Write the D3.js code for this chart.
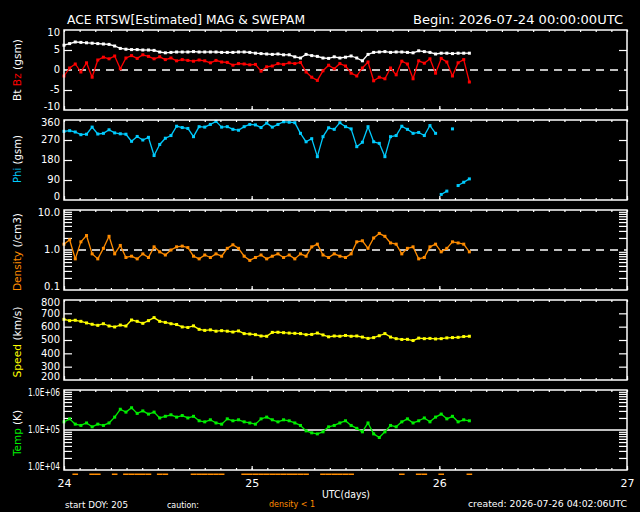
<!DOCTYPE html>
<html>
<head>
<meta charset="utf-8">
<script src="https://cdn.jsdelivr.net/npm/d3@7"></script>
<style>
  html,body{margin:0;padding:0;background:#000;}
  svg{display:block;}
  text{font-family:"DejaVu Sans",sans-serif;fill:#fff;}
</style>
</head>
<body>
<svg id="chart" width="640" height="512"></svg>
<script>
// ---------- DATA ----------
const startDay = 24.0;           // UTC day-of-month of first sample
const stepDay = 0.03;            // sample spacing in days
const dayTicks = [24, 25, 26, 27];

const bt = [6.2,6.6,7.0,6.9,6.8,6.7,6.6,6.5,6.4,6.0,5.4,5.2,5.1,5.1,5.0,5.0,4.9,4.5,4.3,4.4,
            4.5,4.5,4.5,4.6,4.5,4.5,4.5,4.5,4.4,4.4,4.4,4.5,4.5,4.4,4.2,4.1,4.0,3.9,4.0,3.8,
            3.8,3.3,3.0,3.9,3.6,3.4,3.0,2.9,3.3,3.0,3.2,3.5,3.0,2.3,3.9,4.4,4.5,4.6,4.4,4.5,
            4.5,4.4,4.3,4.8,4.6,4.4,4.0,4.2,4.2,4.1,4.2,4.2,4.2];
const bz = [-1.5,0.5,1.5,-0.5,1.8,-1.8,2.5,3.2,2.8,3.5,0.3,3.0,3.6,2.9,3.8,3.4,2.8,3.3,2.6,3.0,
            2.3,2.6,2.4,2.2,2.5,2.3,1.8,2.4,2.0,1.9,1.2,1.6,1.5,1.3,1.4,-0.3,0.8,1.0,1.6,1.4,
            1.8,1.6,1.9,-0.5,-1.8,-2.6,-0.2,1.2,0.3,1.6,1.0,-0.8,-1.5,0.5,2.0,-2.7,-1.8,-2.2,0.5,-1.2,
            2.2,1.5,-2.2,2.3,1.7,2.8,-0.8,2.9,2.0,-1.5,1.8,2.6,-3.0];
const phi = [309,312,306,294,296,328,297,300,316,302,298,296,264,286,270,282,200,250,278,290,
             332,326,322,285,330,328,340,354,328,330,318,314,330,340,338,326,346,328,340,352,
             350,348,300,262,276,195,285,325,318,348,330,320,240,260,330,262,255,195,285,290,
             332,318,300,304,290,335,300,25,40,320,65,80,95];
const density = [1.4,1.8,0.6,1.6,2.3,0.8,0.6,1.1,2.2,0.8,1.3,0.65,0.7,0.6,0.8,0.65,1.2,0.9,0.75,1.0,
                 1.2,1.25,1.15,0.7,0.6,0.75,0.65,0.8,0.7,1.1,1.35,1.1,0.7,0.55,0.65,0.75,0.6,0.7,0.8,0.65,
                 0.75,0.6,0.8,0.7,1.2,1.4,0.75,0.65,0.8,0.7,0.65,0.8,1.6,1.7,1.1,2.0,2.6,2.2,1.5,1.4,
                 0.8,1.1,1.2,0.6,0.65,1.2,1.4,0.9,1.1,1.6,1.5,1.4,0.9];
const speed = [655,645,648,640,628,618,610,622,605,598,612,605,650,640,625,645,668,640,632,622,
               616,598,594,606,580,572,576,566,570,566,560,568,548,545,540,530,528,557,558,555,
               552,550,548,540,542,552,538,524,530,528,534,528,530,522,512,518,532,548,522,510,
               504,505,496,514,510,512,508,510,516,518,520,526,528];
const temp = [1.6e5,1.9e5,1.4e5,1.3e5,1.5e5,1.2e5,1.4e5,1.3e5,1.5e5,2.1e5,3.3e5,2.8e5,3.6e5,2.6e5,3.0e5,2.5e5,2.8e5,2.0e5,2.2e5,2.4e5,
              2.1e5,2.3e5,2.0e5,2.2e5,1.7e5,1.6e5,1.8e5,1.5e5,1.4e5,1.9e5,1.7e5,1.8e5,1.6e5,1.5e5,1.4e5,1.9e5,2.1e5,1.8e5,1.6e5,1.8e5,
              1.7e5,1.5e5,1.3e5,0.95e5,0.85e5,0.8e5,0.9e5,1.2e5,1.3e5,1.5e5,1.7e5,1.3e5,1.1e5,0.9e5,1.5e5,0.8e5,0.65e5,0.9e5,1.3e5,1.2e5,
              1.6e5,1.9e5,1.5e5,1.7e5,2.0e5,1.6e5,2.1e5,2.5e5,1.9e5,2.2e5,1.6e5,1.8e5,1.7e5];

const magLabels = [-10, -5, 0, 5, 10];
const phiLabels = [0, 90, 180, 270, 360];
const denLabels = [0.1, 1, 10];
const spdLabels = [200, 300, 400, 500, 600, 700, 800];
const tmpLabels = [1e4, 1e5, 1e6];

// ---------- LAYOUT ----------
const svg = d3.select("#chart");
svg.append("rect").attr("width", 640).attr("height", 512).attr("fill", "#000");
const X0 = 64, X1 = 627;
const x = d3.scaleLinear().domain([24, 27]).range([X0, X1]);
const times = bt.map((_, i) => startDay + i * stepDay);

const COL = {bt:"#ffffff", bz:"#ff0000", phi:"#00ccff", den:"#ff8c00", spd:"#ffff00", tmp:"#00ee00"};

const panels = [
  {top:30,  bottom:110, y:d3.scaleLinear().domain([-10,10]).range([110,30]),
   labels:magLabels, fmt:d=>String(d), marks:[-5,5]},
  {top:120, bottom:200, y:d3.scaleLinear().domain([0,360]).range([200,120]),
   labels:phiLabels, fmt:d=>String(d), marks:[90,180,270]},
  {top:210, bottom:290, y:d3.scaleLog().domain([0.1,10]).range([290,210]),
   labels:denLabels, fmt:d=>d3.format(".1f")(d),
   marks:[0.2,0.3,0.4,0.5,0.6,0.7,0.8,0.9,2,3,4,5,6,7,8,9]},
  {top:300, bottom:380, y:d3.scaleLinear().domain([200,800]).range([380,300]),
   labels:spdLabels, fmt:d=>String(d), marks:[300,400,500,600,700]},
  {top:390, bottom:470, y:d3.scaleLog().domain([1e4,1e6]).range([470,390]),
   labels:tmpLabels, fmt:d=>"1.0E+0"+Math.round(Math.log10(d)), labelLen:32,
   marks:[2e4,3e4,4e4,5e4,6e4,7e4,8e4,9e4,2e5,3e5,4e5,5e5,6e5,7e5,8e5,9e5]}
];

const minorX = d3.range(0, 37).map(k => 24 + k / 12);

panels.forEach((p, pi) => {
  const g = svg.append("g");
  // x ticks top & bottom
  g.append("g").attr("transform", `translate(0,${p.bottom})`)
    .call(d3.axisBottom(x).tickValues(minorX).tickSize(-2).tickSizeOuter(0).tickFormat(""));
  g.append("g").attr("transform", `translate(0,${p.top})`)
    .call(d3.axisTop(x).tickValues(minorX).tickSize(-2).tickSizeOuter(0).tickFormat(""));
  g.append("g").attr("transform", `translate(0,${p.bottom})`)
    .call(d3.axisBottom(x).tickValues(dayTicks).tickSize(-4).tickSizeOuter(0).tickFormat(""));
  // y marks left & right
  g.append("g").attr("transform", `translate(${X0},0)`)
    .call(d3.axisLeft(p.y).tickValues(p.marks).tickSize(-8).tickSizeOuter(0).tickFormat(""));
  g.append("g").attr("transform", `translate(${X1},0)`)
    .call(d3.axisRight(p.y).tickValues(p.marks).tickSize(-8).tickSizeOuter(0).tickFormat(""));
  // y labels
  const la = g.append("g").attr("class", "lab").attr("transform", `translate(${X0},0)`)
    .call(d3.axisLeft(p.y).tickValues(p.labels).tickSize(0).tickPadding(4).tickSizeOuter(0).tickFormat(p.fmt));
  la.selectAll(".tick").attr("transform", d => {
    let yy = p.y(d);
    yy = Math.max(p.top + 3, Math.min(p.bottom - 3, yy));
    return `translate(0,${yy})`;
  });
  la.selectAll("text").attr("font-size", 10).attr("fill", "#fff");
  if (p.labelLen) la.selectAll("text").attr("textLength", p.labelLen).attr("lengthAdjust", "spacingAndGlyphs");
  g.selectAll(".domain").remove();
  g.selectAll("line").attr("stroke", "#fff").attr("stroke-width", 1.2);
});

// reference lines
svg.append("line").attr("x1", X0).attr("x2", X1)
  .attr("y1", panels[0].y(0)).attr("y2", panels[0].y(0))
  .attr("stroke", "#fff").attr("stroke-width", 1.3).attr("stroke-dasharray", "8,6");
svg.append("line").attr("x1", X0).attr("x2", X1)
  .attr("y1", panels[2].y(1)).attr("y2", panels[2].y(1))
  .attr("stroke", "#fff").attr("stroke-width", 1.3).attr("stroke-dasharray", "8,6");
svg.append("line").attr("x1", X0).attr("x2", X1)
  .attr("y1", panels[4].y(1e5)).attr("y2", panels[4].y(1e5))
  .attr("stroke", "#fff").attr("stroke-width", 1.3);

// data drawing
function drawSeries(p, values, color, maxJump) {
  const g = svg.append("g");
  for (let i = 1; i < values.length; i++) {
    if (maxJump && Math.abs(values[i] - values[i-1]) > maxJump) continue;
    g.append("line")
      .attr("x1", x(times[i-1])).attr("y1", p.y(values[i-1]))
      .attr("x2", x(times[i])).attr("y2", p.y(values[i]))
      .attr("stroke", color).attr("stroke-width", 1.3);
  }
  g.selectAll("rect").data(values).join("rect")
    .attr("x", (d, i) => x(times[i]) - 1.5).attr("y", d => p.y(d) - 1.5)
    .attr("width", 3).attr("height", 3).attr("fill", color);
}
drawSeries(panels[0], bt, COL.bt);
drawSeries(panels[0], bz, COL.bz);
drawSeries(panels[1], phi, COL.phi, 120);
drawSeries(panels[2], density, COL.den);
drawSeries(panels[3], speed, COL.spd);
drawSeries(panels[4], temp, COL.tmp);

// frames
panels.forEach(p => {
  svg.append("rect").attr("x", X0).attr("y", p.top)
    .attr("width", X1 - X0).attr("height", p.bottom - p.top)
    .attr("fill", "none").attr("stroke", "#fff").attr("stroke-width", 1.5);
});

// density < 1 indicator
svg.append("g").selectAll("rect").data(density.map((d, i) => ({d, t: times[i]})).filter(o => o.d < 1))
  .join("rect")
  .attr("x", o => x(o.t - stepDay / 2)).attr("y", 473.5)
  .attr("width", o => x(o.t + stepDay / 2) - x(o.t - stepDay / 2)).attr("height", 1.5)
  .attr("fill", COL.den);

// x-axis day labels
const xl = svg.append("g").attr("transform", "translate(0,470)")
  .call(d3.axisBottom(x).tickValues(dayTicks).tickSize(0).tickPadding(9).tickFormat(d3.format("d")));
xl.select(".domain").remove();
xl.selectAll("text").attr("font-size", 11).attr("fill", "#fff");

// titles
svg.append("text").attr("x", 67).attr("y", 24).attr("font-size", 13)
  .attr("textLength", 238).attr("lengthAdjust", "spacingAndGlyphs")
  .text("ACE RTSW[Estimated] MAG & SWEPAM");
svg.append("text").attr("x", 413).attr("y", 24).attr("font-size", 13)
  .attr("textLength", 210).attr("lengthAdjust", "spacingAndGlyphs")
  .text("Begin: 2026-07-24 00:00:00UTC");

// y-axis titles (rotated)
const yTitles = [
  {c:70,  len:62, parts:[["Bt ", "#fff"], ["Bz", COL.bz], [" (gsm)", "#fff"]]},
  {c:159, len:48, parts:[["Phi", COL.phi], [" (gsm)", "#fff"]]},
  {c:252, len:78, parts:[["Density", COL.den], [" (/cm3)", "#fff"]]},
  {c:342, len:71, parts:[["Speed", COL.spd], [" (km/s)", "#fff"]]},
  {c:433, len:46, parts:[["Temp", COL.tmp], [" (K)", "#fff"]]}
];
yTitles.forEach(t => {
  const tx = svg.append("text").attr("transform", `translate(21,${t.c}) rotate(-90)`)
    .attr("text-anchor", "middle").attr("font-size", 11)
    .attr("textLength", t.len).attr("lengthAdjust", "spacingAndGlyphs");
  t.parts.forEach(([s, c]) => tx.append("tspan").attr("fill", c).text(s));
});

// footer
svg.append("text").attr("x", 346).attr("y", 498).attr("text-anchor", "middle").attr("font-size", 11)
  .attr("textLength", 48).attr("lengthAdjust", "spacingAndGlyphs").text("UTC(days)");
svg.append("text").attr("x", 65).attr("y", 508).attr("font-size", 9.5)
  .attr("textLength", 63).attr("lengthAdjust", "spacingAndGlyphs").text("start DOY: 205");
svg.append("text").attr("x", 167).attr("y", 508).attr("font-size", 9.5)
  .attr("textLength", 32).attr("lengthAdjust", "spacingAndGlyphs").text("caution:");
svg.append("text").attr("x", 269).attr("y", 507).attr("font-size", 9.5).attr("fill", COL.den)
  .style("fill", COL.den)
  .attr("textLength", 46).attr("lengthAdjust", "spacingAndGlyphs").text("density < 1");
svg.append("text").attr("x", 468).attr("y", 507).attr("font-size", 9.5)
  .attr("textLength", 159).attr("lengthAdjust", "spacingAndGlyphs").text("created: 2026-07-26 04:02:06UTC");
</script>
</body>
</html>
